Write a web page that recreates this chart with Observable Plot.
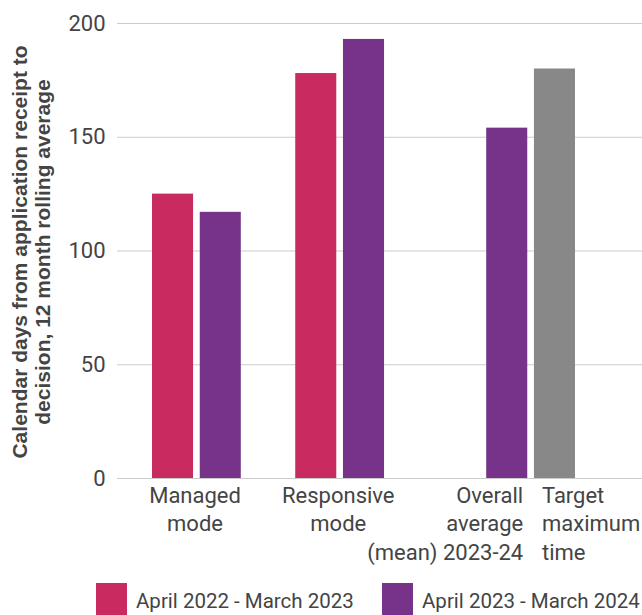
<!DOCTYPE html>
<html>
<head>
<meta charset="utf-8">
<script src="https://cdn.jsdelivr.net/npm/d3@7"></script>
<script src="https://cdn.jsdelivr.net/npm/@observablehq/plot@0.6"></script>
<style>
  html, body { margin: 0; padding: 0; background: #fff; overflow: hidden; }
  body { width: 642px; height: 615px; font-family: Roboto, "Noto Sans", sans-serif; }
  #legend { position: relative; height: 32px; }
  .sw { position: absolute; top: 0; width: 31px; height: 32px; }
  .lt { position: absolute; top: 1px; line-height: 34px; font-size: 20.5px; color: #444; white-space: nowrap; }
</style>
</head>
<body>
<div id="chart"></div>
<div id="legend"></div>
<script>
// ---- data ----
const series = ["April 2022 - March 2023", "April 2023 - March 2024"];
const categories = ["Managed mode", "Responsive mode"];
const categoryLabels = ["Managed\nmode", "Responsive\nmode"];
const values2022 = [125, 178];
const values2023 = [117, 193];
const overallKey = "Overall average (mean) 2023-24";
const overallLabel = "Overall\naverage\n(mean) 2023-24";
const overallValue = 154;
const targetKey = "Target maximum time";
const targetLabel = "Target\nmaximum\ntime";
const targetValue = 180;
const yTicks = [0, 50, 100, 150, 200];
const yTitle = "Calendar days from application receipt to\ndecision, 12 month rolling average";
const colors = ["#C92A5F", "#763389", "#888888"];

// ---- build slots & rows ----
const slots = [];
categories.forEach((c, i) => {
  slots.push(c + "|0", c + "|1");
  if (i === 0) slots.push("gap-a");
});
slots.push("gap-b", "gap-c", overallKey, targetKey);

const bars = [];
categories.forEach((c, i) => {
  bars.push({slot: c + "|0", value: values2022[i], s: series[0]});
  bars.push({slot: c + "|1", value: values2023[i], s: series[1]});
});
bars.push({slot: overallKey, value: overallValue, s: series[1]});
bars.push({slot: targetKey, value: targetValue, s: "Target"});

const groupLabels = categories.map((c, i) => ({slot: c + "|0", label: categoryLabels[i]}));

const W = 642, H = 583;
const chart = Plot.plot({
  width: W,
  height: H,
  marginTop: 23,
  marginBottom: H - 478,
  marginLeft: 117,
  marginRight: 0,
  style: {fontFamily: "Roboto, 'Noto Sans', sans-serif", color: "#444", background: "#fff"},
  x: {type: "band", domain: slots, range: [152, 575], paddingInner: 0.14, paddingOuter: 0, round: false, axis: null},
  y: {domain: [0, 200], axis: null},
  color: {domain: [...series, "Target"], range: colors},
  marks: [
    Plot.gridY(yTicks, {stroke: "#cccccc", strokeOpacity: 1, strokeWidth: 1.2}),
    Plot.axisY(yTicks, {tickSize: 0, tickPadding: 12, fontSize: 22, fill: "#444", label: null}),
    Plot.barY(bars, {x: "slot", y: "value", fill: "s"}),
    Plot.text(groupLabels, {x: "slot", text: "label", frameAnchor: "bottom", lineAnchor: "top", dy: 4, dx: 22, fontSize: 22, lineHeight: 1.3, fill: "#444"}),
    Plot.text([overallLabel], {x: () => overallKey, text: d => d, frameAnchor: "bottom", lineAnchor: "top", dy: 4, dx: 16, textAnchor: "end", fontSize: 22, lineHeight: 1.3, fill: "#444"}),
    Plot.text([targetLabel], {x: () => targetKey, text: d => d, frameAnchor: "bottom", lineAnchor: "top", dy: 4, dx: -13, textAnchor: "start", fontSize: 22, lineHeight: 1.3, fill: "#444"}),
    Plot.text([yTitle], {frameAnchor: "left", textAnchor: "middle", lineAnchor: "middle", rotate: -90, dx: -86, dy: 1, text: d => d, fontFamily: "'Liberation Sans', Arial, sans-serif", fontSize: 21, fontWeight: "bold", lineHeight: 1.1, fill: "#444"})
  ]
});
document.getElementById("chart").appendChild(chart);

// ---- legend ----
const legend = document.getElementById("legend");
const legendPos = [96, 382];
series.forEach((s, i) => {
  const sw = document.createElement("div");
  sw.className = "sw";
  sw.style.left = legendPos[i] + "px";
  sw.style.background = colors[i];
  legend.appendChild(sw);
  const t = document.createElement("div");
  t.className = "lt";
  t.style.left = (legendPos[i] + 40) + "px";
  t.textContent = s;
  legend.appendChild(t);
});
</script>
</body>
</html>
